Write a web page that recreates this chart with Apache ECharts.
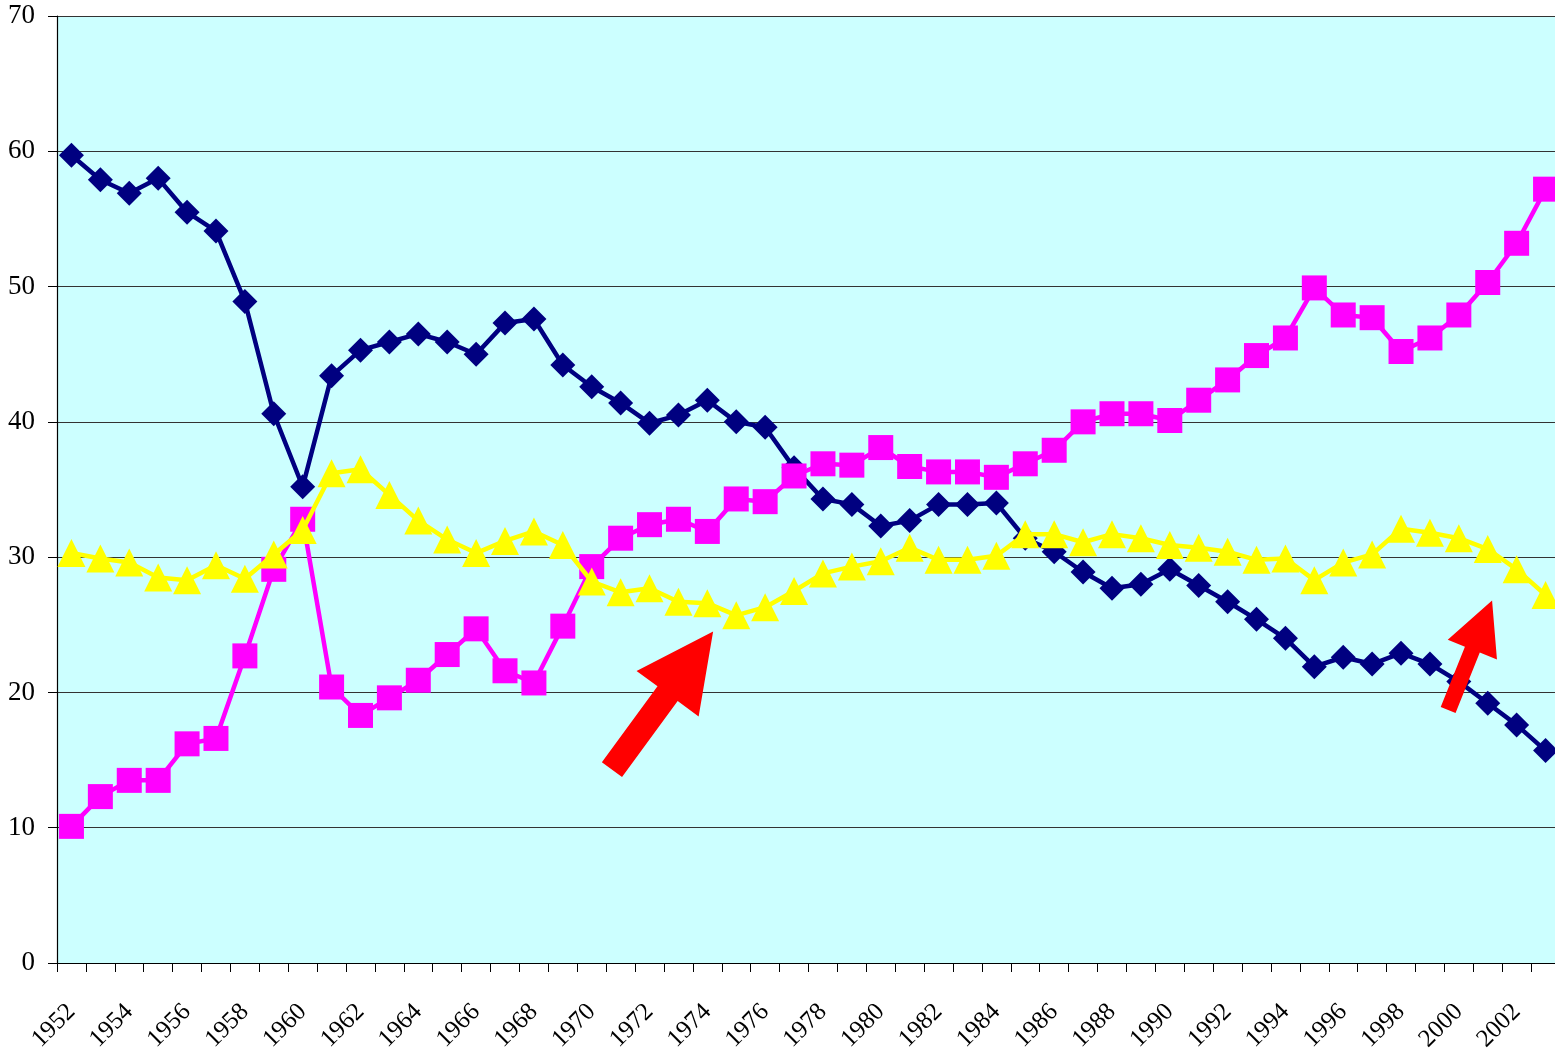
<!DOCTYPE html>
<html>
<head>
<meta charset="utf-8">
<script src="https://cdn.jsdelivr.net/npm/echarts@6/dist/echarts.min.js"></script>
<style>
    html, body { margin: 0; padding: 0; background: #fff; }
    #chart { width: 1555px; height: 1051px; }
</style>
</head>
<body>
<div id="chart"></div>
<script>
const years = [
    "1952", "1953", "1954", "1955", "1956", "1957", "1958", "1959", "1960", "1961",
    "1962", "1963", "1964", "1965", "1966", "1967", "1968", "1969", "1970", "1971",
    "1972", "1973", "1974", "1975", "1976", "1977", "1978", "1979", "1980", "1981",
    "1982", "1983", "1984", "1985", "1986", "1987", "1988", "1989", "1990", "1991",
    "1992", "1993", "1994", "1995", "1996", "1997", "1998", "1999", "2000", "2001",
    "2002", "2003"
];
const navySeries = [
    59.7, 57.9, 56.9, 58.0, 55.5, 54.1, 48.9, 40.6, 35.2, 43.4,
    45.3, 45.9, 46.5, 45.9, 45.0, 47.3, 47.6, 44.2, 42.6, 41.4,
    39.9, 40.5, 41.6, 40.0, 39.6, 36.6, 34.3, 33.9, 32.3, 32.7,
    33.9, 33.9, 34.0, 31.4, 30.4, 28.9, 27.7, 28.0, 29.1, 27.9,
    26.7, 25.4, 24.0, 21.9, 22.6, 22.1, 22.9, 22.1, 20.8, 19.2,
    17.6, 15.7
];
const magentaSeries = [
    10.1, 12.3, 13.5, 13.5, 16.2, 16.6, 22.7, 29.1, 32.8, 20.4,
    18.3, 19.6, 20.9, 22.8, 24.7, 21.6, 20.7, 24.9, 29.3, 31.4,
    32.4, 32.8, 31.9, 34.3, 34.1, 36.0, 36.9, 36.8, 38.1, 36.7,
    36.3, 36.3, 35.9, 36.9, 37.9, 40.0, 40.6, 40.6, 40.1, 41.6,
    43.1, 44.9, 46.2, 49.9, 47.9, 47.7, 45.2, 46.2, 47.9, 50.3,
    53.2, 57.2
];
const yellowSeries = [
    30.3, 29.9, 29.6, 28.5, 28.3, 29.4, 28.4, 30.2, 32.0, 36.2,
    36.5, 34.6, 32.7, 31.3, 30.3, 31.2, 31.9, 30.9, 28.2, 27.4,
    27.7, 26.7, 26.6, 25.7, 26.3, 27.5, 28.8, 29.3, 29.7, 30.7,
    29.8, 29.8, 30.1, 31.7, 31.7, 31.1, 31.7, 31.4, 30.9, 30.7,
    30.4, 29.8, 29.9, 28.3, 29.6, 30.2, 32.1, 31.8, 31.4, 30.6,
    29.1, 27.2
];
const yTicks = [0, 10, 20, 30, 40, 50, 60, 70];

// red arrows, tip/tail given as [category index, value]
const arrows = [
    { tip: [22.2, 24.5], tail: [18.7, 14.3], shaft: 25, headWidth: 77, headLen: 77 },
    { tip: [49.15, 26.8], tail: [47.63, 18.7], shaft: 16, headWidth: 53, headLen: 53 }
];

const chart = echarts.init(document.getElementById("chart"));
const labelFont = "'Liberation Serif', 'Times New Roman', serif";

function lineSeries(name, data, color, symbol, size, z) {
    return {
        name: name,
        type: "line",
        data: data,
        z: z,
        symbol: symbol,
        symbolSize: size,
        showAllSymbol: true,
        animation: false,
        lineStyle: { color: color, width: 4.5 },
        itemStyle: { color: color, borderWidth: 0 },
        emphasis: { disabled: true }
    };
}

const option = {
    backgroundColor: "#ffffff",
    animation: false,
    grid: {
        left: 57,
        right: -5,
        top: 16,
        bottom: 88,
        containLabel: false,
        outerBoundsMode: "none",
        show: true,
        backgroundColor: "#CCFFFF",
        borderWidth: 0
    },
    xAxis: {
        type: "category",
        data: years,
        boundaryGap: true,
        axisLine: { lineStyle: { color: "#000", width: 1.2 } },
        axisTick: { show: true, interval: 0, length: 9, lineStyle: { color: "#000" } },
        axisLabel: {
            interval: 1,
            rotate: 45,
            margin: 45,
            hideOverlap: false,
            color: "#000",
            fontFamily: labelFont,
            fontSize: 25
        }
    },
    yAxis: {
        type: "value",
        min: yTicks[0],
        max: yTicks[yTicks.length - 1],
        interval: 10,
        axisLine: { show: true, lineStyle: { color: "#000", width: 1.2 } },
        axisTick: { show: true, length: 9, lineStyle: { color: "#000" } },
        axisLabel: {
            margin: 22,
            color: "#000",
            fontFamily: labelFont,
            fontSize: 27
        },
        splitLine: { show: true, lineStyle: { color: "#333", width: 1.2 } }
    },
    series: [
        lineSeries("navy", navySeries, "#000080", "diamond", 25, 2),
        lineSeries("magenta", magentaSeries, "#FF00FF", "rect", 25, 3),
        lineSeries("yellow", yellowSeries, "#FFFF00", "triangle", 28, 4)
    ]
};
chart.setOption(option);

// draw the annotation arrows in axis coordinates
function toPixel(pt) {
    const x0 = chart.convertToPixel({ xAxisIndex: 0 }, 0);
    const x1 = chart.convertToPixel({ xAxisIndex: 0 }, 1);
    const y = chart.convertToPixel({ yAxisIndex: 0 }, pt[1]);
    return [x0 + pt[0] * (x1 - x0), y];
}

function arrowPoints(a) {
    const t = toPixel(a.tip);
    const c = toPixel(a.tail);
    const len = Math.hypot(t[0] - c[0], t[1] - c[1]);
    const d = [(t[0] - c[0]) / len, (t[1] - c[1]) / len];
    const n = [-d[1], d[0]];
    const b = [t[0] - d[0] * a.headLen, t[1] - d[1] * a.headLen];
    const off = (p, s) => [p[0] + n[0] * s, p[1] + n[1] * s];
    return [
        off(c, a.shaft / 2), off(b, a.shaft / 2), off(b, a.headWidth / 2), t,
        off(b, -a.headWidth / 2), off(b, -a.shaft / 2), off(c, -a.shaft / 2)
    ];
}

chart.setOption({
    graphic: arrows.map((a) => ({
        type: "polygon",
        z: 100,
        silent: true,
        shape: { points: arrowPoints(a) },
        style: { fill: "#FF0000", stroke: "none" }
    }))
});
</script>
</body>
</html>
